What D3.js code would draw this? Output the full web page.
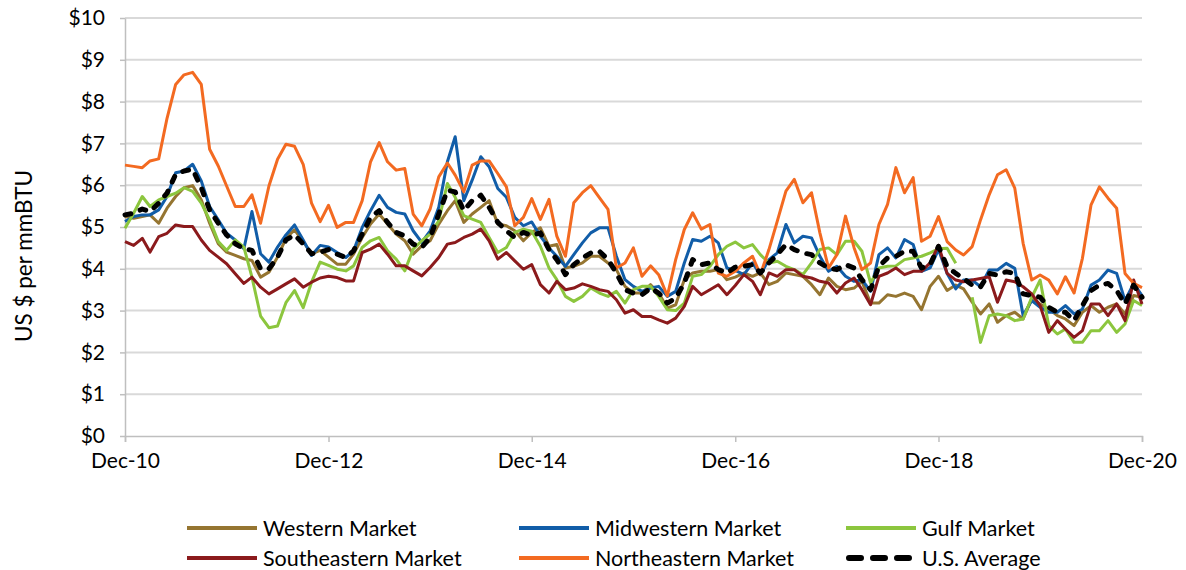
<!DOCTYPE html>
<html lang="en">
<head>
<meta charset="UTF-8">
<title>Natural gas prices by market</title>
<style>
  body { margin: 0; background: #fff; }
  svg { display: block; font-family: Lato, "DejaVu Sans", sans-serif; }
  .axis text { font-size: 21px; fill: #000; }
  .axis path, .axis line { stroke: #bfbfbf; stroke-width: 1.5; }
  .grid line { stroke: #d9d9d9; stroke-width: 2; }
  .legend text { font-size: 21.5px; fill: #000; }
</style>
</head>
<body>
<script src="https://cdnjs.cloudflare.com/ajax/libs/d3/7.8.5/d3.min.js"></script>
<script>
// monthly prices, Dec-10 .. Dec-20 (US $ per mmBTU)
const firstMonth = "2010-12";
const xTickLabels = ["Dec-10", "Dec-12", "Dec-14", "Dec-16", "Dec-18", "Dec-20"];
const yTicks = [0, 1, 2, 3, 4, 5, 6, 7, 8, 9, 10];

const western = [
  5.25, 5.21, 5.25, 5.29, 5.09, 5.45, 5.73, 5.94, 5.99, 5.65, 5.09, 4.60,
  4.40, 4.32, 4.24, 4.20, 3.80, 3.92, 4.28, 4.73, 4.93, 4.65, 4.36, 4.44,
  4.28, 4.11, 4.11, 4.35, 4.75, 5.07, 5.31, 5.07, 4.83, 4.67, 4.35, 4.55,
  4.67, 5.07, 5.39, 5.63, 5.11, 5.31, 5.47, 5.63, 5.07, 5.03, 4.91, 4.67,
  4.87, 4.98, 4.54, 4.58, 4.02, 4.06, 4.14, 4.30, 4.30, 4.14, 3.98, 3.58,
  3.42, 3.42, 3.62, 3.42, 3.06, 3.14, 3.74, 3.90, 3.94, 3.94, 3.98, 3.74,
  3.80, 3.90, 3.82, 3.90, 3.62, 3.70, 3.90, 3.86, 3.82, 3.62, 3.38, 3.78,
  3.58, 3.50, 3.54, 3.70, 3.18, 3.18, 3.38, 3.34, 3.42, 3.34, 3.02, 3.58,
  3.82, 3.48, 3.61, 3.52, 3.20, 2.92, 3.16, 2.72, 2.88, 2.96, 2.80, 3.28,
  3.16, 3.04, 2.88, 2.80, 2.64, 2.96, 3.12, 2.96, 3.08, 3.16, 2.92, 3.36,
  3.32
];
const midwestern = [
  5.13, 5.25, 5.29, 5.29, 5.41, 5.73, 6.30, 6.34, 6.50, 6.10, 5.49, 5.17,
  4.85, 4.69, 4.48, 5.37, 4.36, 4.16, 4.52, 4.81, 5.05, 4.69, 4.32, 4.56,
  4.52, 4.39, 4.27, 4.43, 4.99, 5.39, 5.76, 5.47, 5.35, 5.31, 4.91, 4.63,
  4.91, 5.47, 6.56, 7.16, 5.63, 6.12, 6.68, 6.44, 5.92, 5.71, 5.23, 5.03,
  5.12, 4.78, 4.50, 4.30, 4.06, 4.34, 4.62, 4.86, 4.98, 4.98, 4.30, 3.74,
  3.58, 3.46, 3.54, 3.58, 3.34, 3.46, 4.14, 4.70, 4.66, 4.78, 4.62, 4.02,
  3.96, 3.86, 4.14, 3.86, 4.22, 4.38, 5.06, 4.62, 4.78, 4.74, 4.30, 3.94,
  4.06, 3.82, 3.70, 3.74, 3.46, 4.34, 4.50, 4.26, 4.70, 4.58, 3.94, 4.02,
  4.46, 3.89, 3.52, 3.73, 3.73, 3.57, 3.97, 3.97, 4.13, 4.01, 2.88, 3.24,
  3.08, 2.96, 2.96, 3.12, 2.92, 3.04, 3.61, 3.73, 3.97, 3.89, 3.24, 3.65,
  3.36
];
const gulf = [
  4.97, 5.33, 5.73, 5.49, 5.65, 5.73, 5.81, 5.94, 5.85, 5.57, 5.17, 4.65,
  4.44, 4.69, 4.52, 3.80, 2.87, 2.59, 2.63, 3.19, 3.48, 3.07, 3.68, 4.16,
  4.08, 3.99, 3.95, 4.07, 4.51, 4.67, 4.75, 4.43, 4.23, 3.95, 4.47, 4.67,
  4.83, 5.15, 6.04, 5.71, 5.27, 5.19, 5.11, 4.75, 4.39, 4.51, 4.87, 4.95,
  4.90, 4.54, 4.02, 3.74, 3.34, 3.22, 3.34, 3.54, 3.42, 3.34, 3.46, 3.18,
  3.50, 3.58, 3.58, 3.34, 3.02, 3.00, 3.18, 3.82, 3.86, 4.06, 4.34, 4.54,
  4.64, 4.50, 4.58, 4.34, 4.14, 4.18, 4.06, 3.98, 3.86, 4.14, 4.46, 4.50,
  4.34, 4.66, 4.66, 4.42, 3.66, 4.02, 4.06, 4.07, 4.22, 4.26, 4.30, 4.38,
  4.48, 4.49, 4.13, null, 3.32, 2.24, 2.88, 2.92, 2.88, 2.76, 2.80, 3.32,
  3.73, 2.64, 2.44, 2.56, 2.24, 2.24, 2.52, 2.52, 2.76, 2.48, 2.68, 3.24,
  3.12
];
const southeastern = [
  4.65, 4.56, 4.73, 4.40, 4.77, 4.85, 5.05, 5.01, 5.01, 4.69, 4.44, 4.28,
  4.12, 3.88, 3.65, 3.80, 3.56, 3.40, 3.52, 3.64, 3.76, 3.56, 3.68, 3.78,
  3.82, 3.79, 3.71, 3.71, 4.39, 4.47, 4.59, 4.35, 4.07, 4.07, 3.95, 3.83,
  4.03, 4.27, 4.59, 4.63, 4.75, 4.83, 4.95, 4.67, 4.23, 4.39, 4.19, 3.99,
  4.10, 3.62, 3.42, 3.70, 3.50, 3.54, 3.64, 3.58, 3.50, 3.46, 3.26, 2.94,
  3.02, 2.86, 2.86, 2.78, 2.70, 2.82, 3.10, 3.58, 3.38, 3.50, 3.62, 3.38,
  3.60, 3.86, 3.70, 3.38, 3.90, 3.82, 3.98, 3.98, 3.82, 3.78, 3.70, 3.66,
  3.42, 3.66, 3.78, 3.50, 3.14, 3.82, 3.90, 4.02, 3.86, 3.94, 3.94, 4.14,
  4.56, 3.89, 3.73, 3.69, 3.73, 3.77, 3.81, 3.20, 3.73, 3.69, 3.57, 3.40,
  3.12, 2.48, 2.76, 2.56, 2.36, 2.52, 3.16, 3.16, 2.88, 3.16, 2.76, 3.73,
  3.16
];
const northeastern = [
  6.48, 6.45, 6.42, 6.58, 6.63, 7.60, 8.41, 8.64, 8.70, 8.41, 6.86, 6.46,
  5.98, 5.49, 5.49, 5.77, 5.09, 5.98, 6.62, 6.98, 6.93, 6.50, 5.57, 5.13,
  5.52, 4.99, 5.11, 5.11, 5.63, 6.56, 7.02, 6.56, 6.36, 6.40, 5.31, 5.03,
  5.43, 6.20, 6.53, 6.24, 5.84, 6.48, 6.58, 6.58, 6.28, 5.96, 5.03, 5.23,
  5.68, 5.18, 5.66, 4.78, 4.30, 5.58, 5.82, 5.99, 5.70, 5.42, 4.02, 4.14,
  4.50, 3.82, 4.07, 3.86, 3.35, 4.22, 4.94, 5.34, 4.95, 5.06, 3.90, 3.82,
  3.94, 4.14, 4.30, 3.86, 4.46, 5.14, 5.86, 6.14, 5.58, 5.82, 4.86, 4.02,
  4.34, 5.26, 4.50, 3.98, 4.14, 5.06, 5.54, 6.42, 5.82, 6.18, 4.66, 4.78,
  5.25, 4.65, 4.45, 4.33, 4.53, 5.17, 5.77, 6.25, 6.37, 5.93, 4.61, 3.73,
  3.85, 3.73, 3.40, 3.81, 3.42, 4.25, 5.53, 5.96, 5.69, 5.45, 3.89, 3.65,
  3.55
];
const usAverage = [
  5.29, 5.33, 5.43, 5.37, 5.57, 5.81, 6.26, 6.34, 6.38, 5.94, 5.41, 5.09,
  4.81, 4.60, 4.48, 4.44, 4.00, 4.00, 4.28, 4.69, 4.81, 4.60, 4.36, 4.40,
  4.46, 4.35, 4.27, 4.43, 4.83, 5.23, 5.39, 5.11, 4.87, 4.79, 4.59, 4.51,
  4.75, 5.31, 5.88, 5.84, 5.39, 5.63, 5.76, 5.47, 5.11, 4.91, 4.75, 4.87,
  4.80, 4.86, 4.46, 4.22, 3.86, 4.10, 4.26, 4.38, 4.42, 4.22, 3.90, 3.50,
  3.42, 3.38, 3.54, 3.42, 3.18, 3.30, 3.66, 4.22, 4.10, 4.14, 3.98, 3.90,
  4.04, 4.06, 4.10, 3.90, 4.14, 4.34, 4.58, 4.46, 4.38, 4.34, 4.14, 4.02,
  3.98, 4.10, 4.02, 3.74, 3.50, 4.06, 4.26, 4.30, 4.42, 4.42, 4.02, 4.10,
  4.54, 4.05, 3.89, 3.77, 3.61, 3.57, 3.89, 3.85, 3.93, 3.89, 3.40, 3.36,
  3.32, 3.08, 2.96, 2.96, 2.76, 3.12, 3.48, 3.61, 3.65, 3.48, 3.16, 3.61,
  3.32
];

const seriesNames = ["Western Market", "Midwestern Market", "Gulf Market",
                     "Southeastern Market", "Northeastern Market", "U.S. Average"];
const seriesValues = [western, midwestern, gulf, southeastern, northeastern, usAverage];
const seriesColors = ["#957531", "#115DA8", "#8CC63E", "#8B1A1C", "#F36A21", "#000000"];

const width = 1186, height = 570;
const margin = {top: 18, left: 125, right: 44, bottom: 134};
const innerWidth = width - margin.left - margin.right;
const innerHeight = height - margin.top - margin.bottom;

const parseMonth = d3.timeParse("%Y-%m");
const start = parseMonth(firstMonth);
const months = western.map((d, i) => d3.timeMonth.offset(start, i));

const svg = d3.select("body").append("svg")
  .attr("width", width)
  .attr("height", height);

const chart = svg.append("g")
  .attr("transform", `translate(${margin.left},${margin.top})`);

const x = d3.scaleTime()
  .domain([months[0], months[months.length - 1]])
  .range([0, innerWidth]);

const y = d3.scaleLinear()
  .domain([0, 10])
  .range([innerHeight, 0]);

// gridlines
chart.append("g").attr("class", "grid")
  .selectAll("line")
  .data(yTicks.filter(d => d > 0))
  .join("line")
  .attr("x1", 0).attr("x2", innerWidth)
  .attr("y1", d => y(d)).attr("y2", d => y(d));

// axes
const xTickDates = xTickLabels.map((t, i) => d3.timeMonth.offset(start, i * 24));
chart.append("g").attr("class", "axis")
  .attr("transform", `translate(0,${innerHeight})`)
  .call(d3.axisBottom(x)
    .tickValues(xTickDates)
    .tickSizeInner(6).tickSizeOuter(6)
    .tickPadding(11)
    .tickFormat((d, i) => xTickLabels[i]));

chart.append("g").attr("class", "axis")
  .call(d3.axisLeft(y)
    .tickValues(yTicks)
    .tickSizeInner(5).tickSizeOuter(0)
    .tickPadding(15)
    .tickFormat(d => "$" + d));

chart.selectAll(".axis text").attr("font-family", "Lato, 'DejaVu Sans', sans-serif");

// y label
svg.append("text")
  .attr("transform", "translate(32,256) rotate(-90)")
  .attr("text-anchor", "middle")
  .style("font-size", "22.5px")
  .text("US $ per mmBTU");

// lines
const line = d3.line()
  .defined(d => d.v != null)
  .x(d => x(d.date))
  .y(d => y(d.v));

seriesValues.forEach((vals, k) => {
  const pts = vals.map((v, i) => ({date: months[i], v: v}));
  const isAvg = k === seriesValues.length - 1;
  chart.append("path")
    .datum(pts)
    .attr("fill", "none")
    .attr("stroke", seriesColors[k])
    .attr("stroke-width", isAvg ? 5 : 3)
    .attr("stroke-linejoin", "round")
    .attr("stroke-linecap", isAvg ? "round" : "butt")
    .attr("stroke-dasharray", isAvg ? "6,10" : null)
    .attr("d", line);
});

// legend
const legendCols = [187, 519, 846];
const legendRows = [528, 558];
const legend = svg.append("g").attr("class", "legend");
seriesNames.forEach((name, k) => {
  const lx = legendCols[k % 3], ly = legendRows[Math.floor(k / 3)];
  const isAvg = k === seriesNames.length - 1;
  legend.append("line")
    .attr("x1", isAvg ? lx + 3 : lx).attr("x2", isAvg ? lx + 67 : lx + 70)
    .attr("y1", ly).attr("y2", ly)
    .attr("stroke", seriesColors[k])
    .attr("stroke-width", isAvg ? 6 : 4)
    .attr("stroke-linecap", isAvg ? "round" : "butt")
    .attr("stroke-dasharray", isAvg ? "12,12" : null);
  legend.append("text")
    .attr("x", lx + 76).attr("y", ly)
    .attr("dy", "0.35em")
    .text(name);
});
</script>
</body>
</html>
